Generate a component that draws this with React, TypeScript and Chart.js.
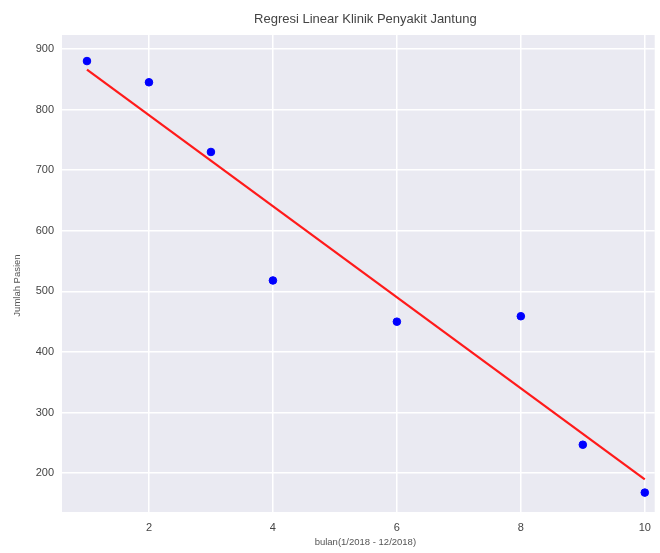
import React, { useEffect, useRef } from "react";
import { Chart, registerables } from "chart.js";

Chart.register(...registerables);

const monthX = [1, 2, 3, 4, 6, 8, 9, 10];
const patients = [880, 845, 730, 518, 450, 459, 247, 168];
const lineX = [1, 10];
const lineY = [866, 190];
const xTicks = [2, 4, 6, 8, 10];
const yTicks = [200, 300, 400, 500, 600, 700, 800, 900];
const titleText = "Regresi Linear Klinik Penyakit Jantung";
const xLabel = "bulan(1/2018 - 12/2018)";
const yLabel = "Jumlah Pasien";

const FONT = "'Liberation Sans', Arial, sans-serif";

const bgPlugin = {
  id: "plotBg",
  beforeDraw(chart: any) {
    const { ctx, chartArea } = chart;
    if (!chartArea) return;
    ctx.save();
    ctx.fillStyle = "#EAEAF2";
    ctx.fillRect(chartArea.left, chartArea.top, chartArea.right - chartArea.left, chartArea.bottom - chartArea.top);
    ctx.restore();
  },
};

const labelsPlugin = {
  id: "labels",
  afterDraw(chart: any) {
    const { ctx, chartArea } = chart;
    const cx = (chartArea.left + chartArea.right) / 2 + 7;
    const cy = (chartArea.top + chartArea.bottom) / 2 + 12;
    ctx.save();
    ctx.textAlign = "center";
    ctx.textBaseline = "middle";
    ctx.fillStyle = "#444";
    ctx.font = `13px ${FONT}`;
    ctx.fillText(titleText, cx, 19);
    ctx.fillStyle = "#555";
    ctx.font = `9.5px ${FONT}`;
    ctx.fillText(xLabel, cx, 542);
    ctx.translate(17.5, cy);
    ctx.rotate(-Math.PI / 2);
    ctx.fillText(yLabel, 0, 0);
    ctx.restore();
  },
};

export default function App() {
  const ref = useRef<HTMLCanvasElement>(null);
  useEffect(() => {
    document.body.style.margin = "0";
    const chart = new Chart(ref.current!, {
      type: "scatter",
      data: {
        datasets: [
          {
            type: "line",
            data: lineX.map((x, i) => ({ x, y: lineY[i] })),
            borderColor: "#ff1a1a",
            borderWidth: 2.2,
            pointRadius: 0,
            fill: false,
            order: 2,
          } as any,
          {
            data: monthX.map((x, i) => ({ x, y: patients[i] })),
            backgroundColor: "#0000ff",
            borderColor: "#0000ff",
            pointRadius: 3.8,
            order: 1,
          },
        ],
      },
      options: {
        animation: false,
        responsive: false,
        layout: { padding: { top: 35, right: 1, left: 0, bottom: 0 } },
        plugins: {
          legend: { display: false },
          tooltip: { enabled: false },
          title: { display: false },
        },
        scales: {
          x: {
            type: "linear",
            min: 0.597,
            max: 10.16,
            grid: { color: "#ffffff", lineWidth: 1.5, drawTicks: false },
            border: { display: false },
            ticks: { color: "#444", font: { family: FONT, size: 11 }, padding: 9 },
            afterBuildTicks: (scale: any) => {
              scale.ticks = xTicks.map((v) => ({ value: v }));
            },
            afterFit: (scale: any) => {
              scale.height = 41;
            },
          },
          y: {
            type: "linear",
            min: 136,
            max: 923,
            grid: { color: "#ffffff", lineWidth: 1.5, drawTicks: false },
            border: { display: false },
            ticks: { color: "#444", font: { family: FONT, size: 11 }, padding: 8 },
            afterBuildTicks: (scale: any) => {
              scale.ticks = yTicks.map((v) => ({ value: v }));
            },
            afterFit: (scale: any) => {
              scale.width = 62;
            },
          },
        },
      },
      plugins: [bgPlugin, labelsPlugin],
    });
    return () => chart.destroy();
  }, []);
  return <canvas ref={ref} width={660} height={553} style={{ display: "block" }} />;
}
